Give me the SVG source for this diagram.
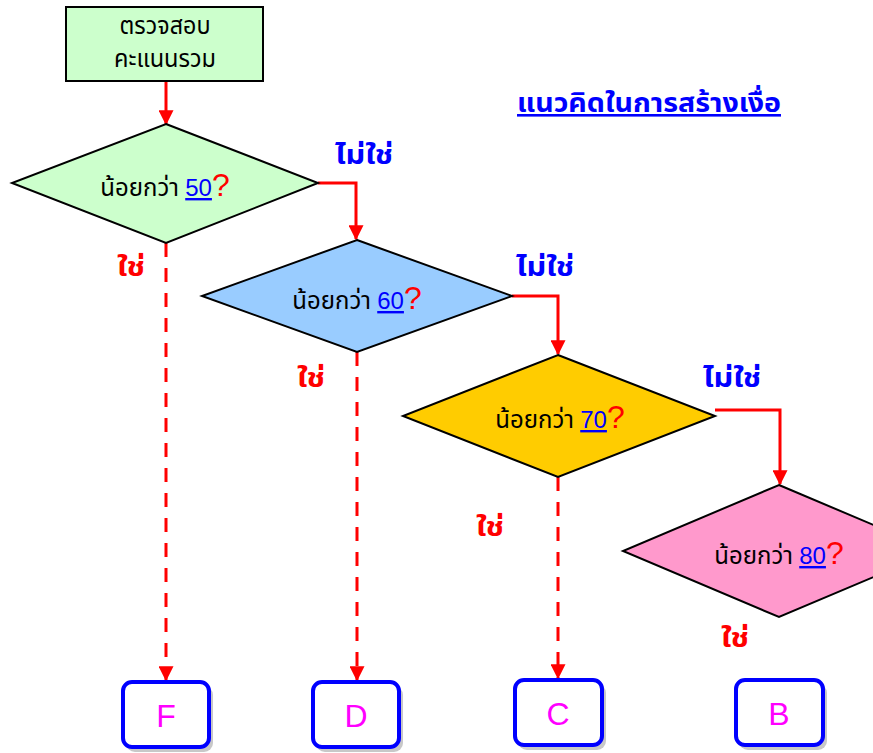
<svg xmlns="http://www.w3.org/2000/svg" width="873" height="753" viewBox="0 0 873 753">
<defs>
<marker id="ah" markerWidth="5" markerHeight="5" refX="4.6" refY="2.5" orient="auto" markerUnits="strokeWidth">
<path d="M0,0 L5,2.5 L0,5 Z" fill="#FF0000"/>
</marker>
<style>
.t{font-family:"Noto Sans Thai","Noto Sans","Liberation Sans",sans-serif;font-size:24px;fill:#000;text-anchor:middle}
.num{font-family:"Liberation Sans",Arial,sans-serif;font-size:24px;fill:#0000FF;text-decoration:underline}
.q{font-family:"Liberation Sans",Arial,sans-serif;fill:#FF0000;font-size:32px}
.yes{font-family:"Noto Sans Thai","Noto Sans","Liberation Sans",sans-serif;font-size:27px;font-weight:bold;fill:#FF0000}
.no{font-family:"Noto Sans Thai","Noto Sans","Liberation Sans",sans-serif;font-size:27px;font-weight:bold;fill:#0000FF}
.dia{stroke:#000;stroke-width:2}
.box{fill:#fff;stroke:#0000FF;stroke-width:4}
.sh{fill:#C8C8C8}
.g{font-family:"Liberation Sans",Arial,sans-serif;font-size:32px;fill:#FF00FF;text-anchor:middle}
.solid{fill:none;stroke:#FF0000;stroke-width:3;marker-end:url(#ah)}
.dash{fill:none;stroke:#FF0000;stroke-width:3;stroke-dasharray:14 11;marker-end:url(#ah)}
</style>
</defs>
<rect width="873" height="753" fill="#fff"/>

<g id="connectors">
<path class="solid" d="M166,81 V124"/>
<path class="solid" d="M318,183 H356 V239"/>
<path class="solid" d="M512,296 H558 V354"/>
<path class="solid" d="M715,410 H780 V484"/>
<path class="dash" d="M166,243 V680"/>
<path class="dash" d="M357,352 V680"/>
<path class="dash" d="M558,477 V678"/>
</g>

<g id="start">
<rect x="66" y="7" width="197" height="74" fill="#CCFFCC" stroke="#000" stroke-width="2"/>
<text class="t" x="165" y="34" font-size="21" textLength="91" lengthAdjust="spacingAndGlyphs">ตรวจสอบ</text>
<text class="t" x="165" y="67" font-size="21" textLength="102" lengthAdjust="spacingAndGlyphs">คะแนนรวม</text>
</g>

<g id="title">
<text x="517" y="112" font-family="'Noto Sans Thai','Noto Sans','Liberation Sans',sans-serif" font-size="26" font-weight="bold" fill="#0000FF" text-decoration="underline" textLength="264" lengthAdjust="spacingAndGlyphs">แนวคิดในการสร้างเงื่อ</text>
</g>

<g id="d50">
<polygon class="dia" points="166,124 318,183 166,243 12,183" fill="#CCFFCC"/>
<text class="t" x="165" y="196">น้อยกว่า <tspan class="num">50</tspan><tspan class="q">?</tspan></text>
</g>

<g id="d60">
<polygon class="dia" points="357,240 512,296 357,352 202,296" fill="#99CCFF"/>
<text class="t" x="357" y="309">น้อยกว่า <tspan class="num">60</tspan><tspan class="q">?</tspan></text>
</g>

<g id="d70">
<polygon class="dia" points="558,355 715,416 558,477 403,416" fill="#FFCC00"/>
<text class="t" x="560" y="428">น้อยกว่า <tspan class="num">70</tspan><tspan class="q">?</tspan></text>
</g>

<g id="d80">
<polygon class="dia" points="779,485 935,551 779,617 623,551" fill="#FF99CC"/>
<text class="t" x="779" y="564">น้อยกว่า <tspan class="num">80</tspan><tspan class="q">?</tspan></text>
</g>

<g id="labels">
<text class="no" x="335" y="164" textLength="58" lengthAdjust="spacingAndGlyphs">ไม่ใช่</text>
<text class="yes" x="117" y="276" textLength="28" lengthAdjust="spacingAndGlyphs">ใช่</text>
<text class="no" x="516" y="276" textLength="58" lengthAdjust="spacingAndGlyphs">ไม่ใช่</text>
<text class="yes" x="297" y="387" textLength="28" lengthAdjust="spacingAndGlyphs">ใช่</text>
<text class="no" x="703" y="387" textLength="58" lengthAdjust="spacingAndGlyphs">ไม่ใช่</text>
<text class="yes" x="476" y="536" textLength="28" lengthAdjust="spacingAndGlyphs">ใช่</text>
<text class="yes" x="721" y="647" textLength="28" lengthAdjust="spacingAndGlyphs">ใช่</text>
</g>

<g id="F">
<rect class="sh" x="126" y="686" width="87" height="66" rx="9"/>
<rect class="box" x="123" y="682" width="86" height="65" rx="9"/>
<text class="g" x="166" y="727">F</text>
</g>
<g id="D">
<rect class="sh" x="316" y="686" width="87" height="66" rx="9"/>
<rect class="box" x="313" y="682" width="86" height="65" rx="9"/>
<text class="g" x="356" y="727">D</text>
</g>
<g id="C">
<rect class="sh" x="518" y="684" width="88" height="66" rx="9"/>
<rect class="box" x="515" y="680" width="87" height="65" rx="9"/>
<text class="g" x="558" y="725">C</text>
</g>
<g id="B">
<rect class="sh" x="739" y="684" width="88" height="66" rx="9"/>
<rect class="box" x="736" y="680" width="87" height="65" rx="9"/>
<text class="g" x="779" y="725">B</text>
</g>
</svg>
